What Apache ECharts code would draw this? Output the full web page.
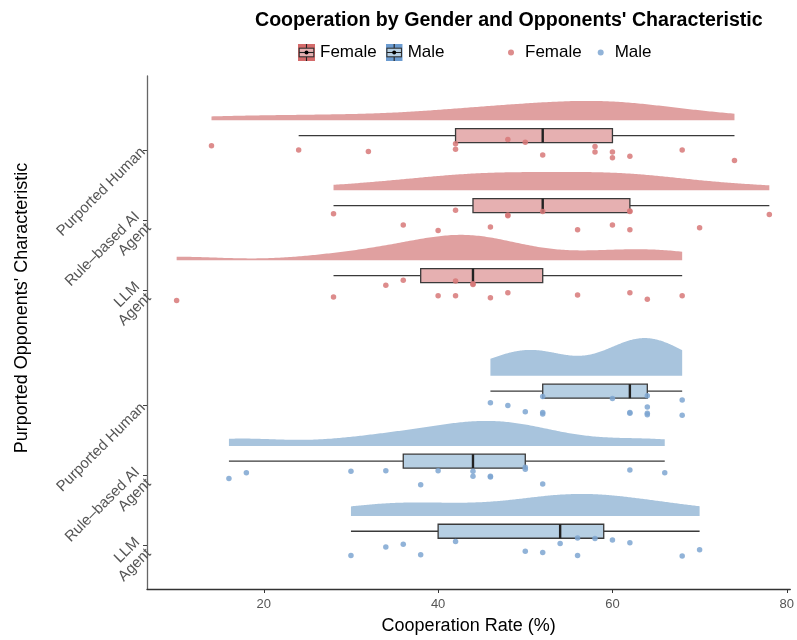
<!DOCTYPE html>
<html><head><meta charset="utf-8">
<script src="https://cdn.jsdelivr.net/npm/echarts@6/dist/echarts.min.js"></script>
<style>html,body{margin:0;padding:0;background:#fff}#c{width:797px;height:640px}</style>
</head><body><div id="c"></div>
<script>
// ---------- data ----------
const groupLabels = ['Purported Human', 'Rule\u2013based AI\nAgent', 'LLM\nAgent'];
const genderNames = ['Female', 'Male'];
const groupPositions = [1, 2, 3, 4.65, 5.65, 6.65]; // F-Human, F-Rule, F-LLM, M-Human, M-Rule, M-LLM
const xTicks = [20, 40, 60, 80];

const femaleHuman = [14, 24, 32, 42, 42, 48, 50, 52, 58, 58, 60, 60, 62, 68, 74];
const femaleHumanJitter = [-0.06, 0.00, 0.02, -0.09, -0.01, -0.15, -0.11, 0.07, -0.05, 0.03, 0.03, 0.11, 0.09, 0.00, 0.15];
const femaleRule = [28, 36, 40, 42, 46, 48, 48, 52, 56, 60, 62, 62, 62, 70, 78];
const femaleRuleJitter = [-0.09, 0.07, 0.15, -0.14, 0.10, -0.07, -0.06, -0.12, 0.14, 0.07, -0.13, 0.14, -0.12, 0.11, -0.08];
const femaleLLM = [10, 28, 34, 36, 40, 42, 42, 44, 44, 46, 48, 56, 62, 64, 68];
const femaleLLMJitter = [0.15, 0.10, -0.07, -0.14, 0.08, -0.13, 0.08, -0.08, -0.09, 0.11, 0.04, 0.07, 0.04, 0.13, 0.08];
const maleHuman = [46, 48, 50, 52, 52, 52, 60, 62, 62, 64, 64, 64, 64, 68, 68];
const maleHumanJitter = [-0.04, 0.00, 0.09, -0.13, 0.10, 0.12, -0.10, 0.10, 0.11, -0.14, 0.02, 0.11, 0.13, -0.08, 0.14];
const maleRule = [16, 18, 30, 34, 38, 40, 44, 44, 46, 46, 50, 50, 52, 62, 66];
const maleRuleJitter = [0.04, -0.04, -0.06, -0.07, 0.13, -0.07, -0.06, 0.01, 0.01, 0.02, -0.12, -0.09, 0.12, -0.08, -0.04];
const maleLLM = [30, 34, 36, 38, 42, 50, 52, 54, 56, 56, 58, 60, 62, 68, 70];
const maleLLMJitter = [0.14, 0.02, -0.02, 0.13, -0.06, 0.08, 0.10, -0.03, -0.11, 0.14, -0.10, -0.08, -0.04, 0.15, 0.06];

// ---------- build groups ----------
const groups = [
  { g: 0, values: femaleHuman, jitter: femaleHumanJitter },
  { g: 0, values: femaleRule, jitter: femaleRuleJitter },
  { g: 0, values: femaleLLM, jitter: femaleLLMJitter },
  { g: 1, values: maleHuman, jitter: maleHumanJitter },
  { g: 1, values: maleRule, jitter: maleRuleJitter },
  { g: 1, values: maleLLM, jitter: maleLLMJitter }
].map((d, i) => Object.assign(d, { pos: groupPositions[i] }));

const COL = {
  violin: ['#e0a0a0', '#a8c4dd'],
  box: ['#e6b0b1', '#b6cfe3'],
  point: ['#d77878', '#7ea6d1'],
  key: ['#d46b6b', '#6b9bd0']
};
const VIOLIN_OFFSET = -0.424, VIOLIN_H = 0.54, BOX_OFFSET = -0.205, BOX_HALF = 0.1;

function quantile(s, p) { const h = (s.length - 1) * p, lo = Math.floor(h), hi = Math.ceil(h); return s[lo] + (h - lo) * (s[hi] - s[lo]); }
function bwNrd0(x) {
  const n = x.length, m = x.reduce((a, b) => a + b, 0) / n;
  const sd = Math.sqrt(x.reduce((a, b) => a + (b - m) * (b - m), 0) / (n - 1));
  const s = x.slice().sort((a, b) => a - b);
  const iqr = quantile(s, 0.75) - quantile(s, 0.25);
  return 0.9 * Math.min(sd, iqr / 1.34) * Math.pow(n, -0.2);
}
groups.forEach(G => {
  const s = G.values.slice().sort((a, b) => a - b);
  const q1 = quantile(s, 0.25), med = quantile(s, 0.5), q3 = quantile(s, 0.75), iqr = q3 - q1;
  const lo = s.find(v => v >= q1 - 1.5 * iqr), hi = s.slice().reverse().find(v => v <= q3 + 1.5 * iqr);
  G.stats = { q1, med, q3, lo, hi };
  const bw = bwNrd0(G.values), n = G.values.length, min = s[0], max = s[n - 1];
  G.kde = [];
  for (let k = 0; k <= 256; k++) {
    const x = min + (max - min) * k / 256;
    let d = 0; G.values.forEach(v => { const z = (x - v) / bw; d += Math.exp(-0.5 * z * z); });
    G.kde.push([x, d / (n * bw * Math.sqrt(2 * Math.PI))]);
  }
});
const maxD = Math.max(...groups.map(G => Math.max(...G.kde.map(p => p[1]))));

function keyIcon(c, b) {
  const svg = `<svg xmlns="http://www.w3.org/2000/svg" width="17" height="17" viewBox="0 0 17 17"><rect x="0" y="0" width="17" height="17" fill="${c}"/><line x1="8.5" y1="0" x2="8.5" y2="17" stroke="#222" stroke-width="1.1"/><rect x="1.2" y="4.2" width="14.6" height="8.6" fill="${b}" stroke="#333" stroke-width="1.1"/><line x1="1.2" y1="8.5" x2="15.8" y2="8.5" stroke="#222" stroke-width="1.1"/><circle cx="8.5" cy="8.5" r="2" fill="#000"/></svg>`;
  return 'image://data:image/svg+xml;charset=utf-8,' + encodeURIComponent(svg);
}

const series = [];
[0, 1].forEach(g => {
  const idx = groups.map((G, i) => i).filter(i => groups[i].g === g);
  series.push({
    type: 'custom', name: genderNames[g] + '_violin', silent: true, z: 1,
    data: idx.map(i => [groups[i].stats.lo, groups[i].pos, i]),
    encode: { x: 0, y: 1 },
    renderItem(params, api) {
      const G = groups[api.value(2)];
      const base = G.pos + VIOLIN_OFFSET;
      const pts = [api.coord([G.kde[0][0], base])];
      G.kde.forEach(p => pts.push(api.coord([p[0], base - p[1] / maxD * VIOLIN_H])));
      pts.push(api.coord([G.kde[G.kde.length - 1][0], base]));
      return { type: 'polygon', shape: { points: pts }, style: { fill: COL.violin[g] } };
    }
  });
});
[0, 1].forEach(g => {
  const idx = groups.map((G, i) => i).filter(i => groups[i].g === g);
  series.push({
    type: 'custom', name: genderNames[g] + '_box', z: 2,
    itemStyle: { color: COL.key[g] },
    data: idx.map(i => [groups[i].stats.lo, groups[i].pos, i]),
    encode: { x: 0, y: 1 },
    renderItem(params, api) {
      const G = groups[api.value(2)], S = G.stats, yc = G.pos + BOX_OFFSET;
      const pLo = api.coord([S.lo, yc]), pHi = api.coord([S.hi, yc]);
      const pQ1t = api.coord([S.q1, yc - BOX_HALF]), pQ3b = api.coord([S.q3, yc + BOX_HALF]);
      const pMt = api.coord([S.med, yc - BOX_HALF]), pMb = api.coord([S.med, yc + BOX_HALF]);
      const line = { stroke: '#3a3a3a', lineWidth: 1.3 };
      return { type: 'group', children: [
        { type: 'line', shape: { x1: pLo[0], y1: pLo[1], x2: pQ1t[0], y2: pLo[1] }, style: line },
        { type: 'line', shape: { x1: pQ3b[0], y1: pHi[1], x2: pHi[0], y2: pHi[1] }, style: line },
        { type: 'rect', shape: { x: pQ1t[0], y: pQ1t[1], width: pQ3b[0] - pQ1t[0], height: pQ3b[1] - pQ1t[1] },
          style: { fill: COL.box[g], stroke: '#3a3a3a', lineWidth: 1.3 } },
        { type: 'line', shape: { x1: pMt[0], y1: pMt[1], x2: pMb[0], y2: pMb[1] }, style: { stroke: '#222', lineWidth: 2.4 } }
      ] };
    }
  });
});
[0, 1].forEach(g => {
  const data = [];
  groups.filter(G => G.g === g).forEach(G => G.values.forEach((v, k) => data.push([v, G.pos + G.jitter[k]])));
  series.push({
    type: 'scatter', name: genderNames[g] + '_pt', z: 3, symbol: 'circle', symbolSize: 5.5,
    itemStyle: { color: COL.point[g], opacity: 0.85 }, data
  });
});

const font = 'Liberation Sans, Arial, Helvetica, sans-serif';
const chart = echarts.init(document.getElementById('c'), null, { renderer: 'canvas' });
chart.setOption({
  animation: false,
  textStyle: { fontFamily: font },
  title: { text: "Cooperation by Gender and Opponents' Characteristic", left: 250, top: 6,
    textStyle: { fontFamily: font, fontSize: 19.6, fontWeight: 'bold', color: '#000' } },
  legend: [
    { data: [{ name: 'Female_box', icon: keyIcon(COL.key[0], COL.box[0]) }, { name: 'Male_box', icon: keyIcon(COL.key[1], COL.box[1]) }],
      left: 293, top: 39, itemWidth: 17, itemHeight: 17, itemGap: 9, selectedMode: false,
      formatter: n => n.split('_')[0], textStyle: { fontFamily: font, fontSize: 17, color: '#000' } },
    { data: [{ name: 'Female_pt', icon: 'circle' }, { name: 'Male_pt', icon: 'circle' }],
      left: 503, top: 39, itemWidth: 6, itemHeight: 6, itemGap: 16, selectedMode: false,
      formatter: n => n.split('_')[0], textStyle: { fontFamily: font, fontSize: 17, color: '#000', padding: [0, 0, 0, 6] } }
  ],
  grid: { left: 147, right: 0, top: 76, bottom: 46, containLabel: false },
  xAxis: {
    type: 'value', min: 6.6, max: 80.4,
    name: 'Cooperation Rate (%)', nameLocation: 'middle', nameGap: 28,
    nameTextStyle: { fontFamily: font, fontSize: 18, color: '#000' },
    axisLine: { show: true, onZero: false, lineStyle: { color: '#333', width: 1.3 } },
    axisTick: { show: true, length: 4, customValues: xTicks, lineStyle: { color: '#333' } },
    axisLabel: { customValues: xTicks, color: '#555', fontSize: 13, margin: 9, fontFamily: font },
    splitLine: { show: false }
  },
  yAxis: {
    type: 'value', inverse: true, min: -0.057, max: 7.27,
    axisLine: { show: true, onZero: false, lineStyle: { color: '#666', width: 1.3 } },
    axisTick: { show: true, length: 4, customValues: groupPositions, lineStyle: { color: '#444' } },
    axisLabel: {
      customValues: groupPositions, rotate: 45, color: '#555', fontSize: 15, lineHeight: 16, margin: 4, fontFamily: font,
      formatter: v => { const i = groupPositions.findIndex(p => Math.abs(p - v) < 0.01); return i < 0 ? '' : groupLabels[i % 3]; }
    },
    splitLine: { show: false }
  },
  graphic: [{
    type: 'text', x: 22, y: 308, rotation: Math.PI / 2,
    style: { text: "Purported Opponents' Characteristic", fontFamily: font, fontSize: 18, fill: '#000',
      align: 'center', verticalAlign: 'middle' }
  }],
  series
});
</script></body></html>
